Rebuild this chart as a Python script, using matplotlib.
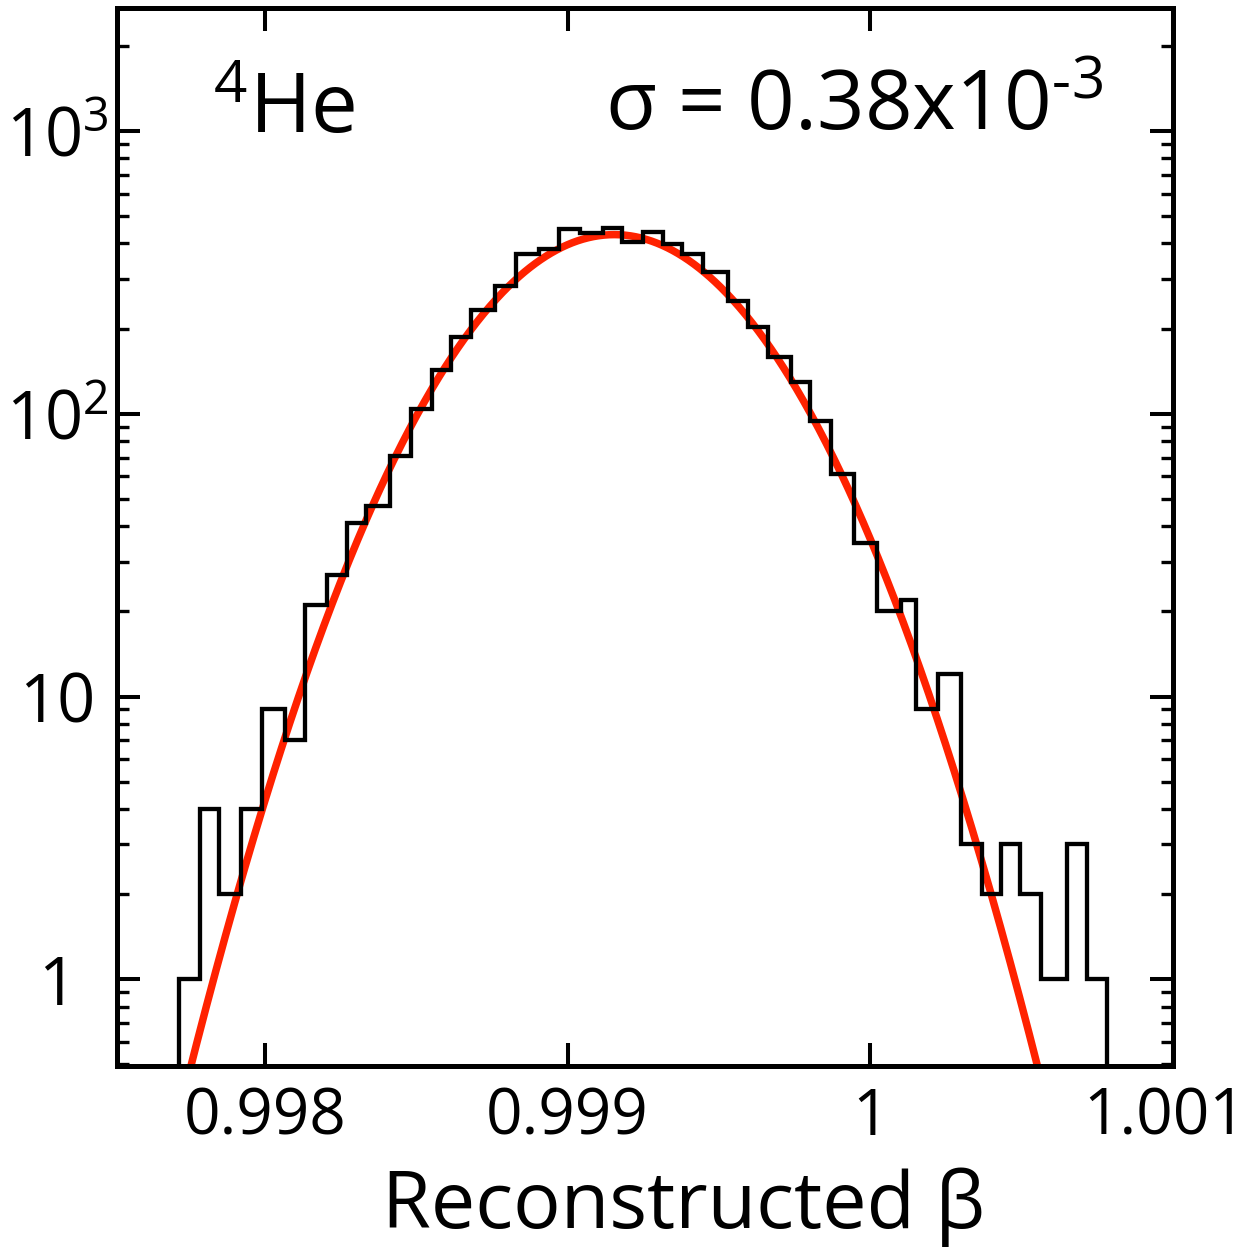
import numpy as np
import matplotlib
matplotlib.use("Agg")
import matplotlib.pyplot as plt
import matplotlib.transforms as mtransforms
from matplotlib.ticker import LogLocator, NullFormatter

plt.rcParams['font.family'] = ['Open Sans', 'DejaVu Sans']
plt.rcParams['mathtext.fontset'] = 'custom'
plt.rcParams['mathtext.rm'] = 'Open Sans'
plt.rcParams['mathtext.it'] = 'Open Sans:italic'
plt.rcParams['mathtext.bf'] = 'Open Sans:bold'
plt.rcParams['mathtext.default'] = 'regular'

# Reconstructed beta histogram: bin edges and entries per bin
bin_edges = [0.9977174, 0.9977857, 0.9978470, 0.9979209, 0.9979921, 0.9980669,
             0.9981319, 0.9982064, 0.9982723, 0.9983350, 0.9984121, 0.9984814,
             0.9985526, 0.9986152, 0.9986825, 0.9987616, 0.9988295, 0.9989044,
             0.9989726, 0.9990396, 0.9991187, 0.9991813, 0.9992506, 0.9993165,
             0.9993769, 0.9994484, 0.9995308, 0.9995968, 0.9996627, 0.9997376,
             0.9998002, 0.9998704, 0.9999463, 1.0000231, 1.0001002, 1.0001497,
             1.0002232, 1.0003000, 1.0003683, 1.0004319, 1.0004959, 1.0005638,
             1.0006495, 1.0007155, 1.0007814]
counts = [1, 4, 2, 4, 9, 7, 21, 27, 41, 47,
          71, 104, 143, 187, 233, 283, 366, 381, 449, 435,
          452, 404, 438, 397, 366, 318, 250, 203, 159, 130,
          94, 61, 35, 20, 22, 9, 12, 3, 2, 3,
          2, 1, 3, 1]

# Gaussian fit parameters
fit_mean = 0.999154
fit_sigma = 0.38e-3
fit_amplitude = 430.0

x_ticks = [0.998, 0.999, 1.0, 1.001]
x_tick_labels = ["0.998", "0.999", "1", "1.001"]
y_ticks = [1, 10, 100, 1000]
y_tick_labels = ["1", "10", "10$^{2}$", "10$^{3}$"]

x_range = (0.99751, 1.001)
y_range = (0.4925, 2711)

fig = plt.figure(figsize=(12.5, 12.49), dpi=100)
ax = fig.add_axes([0.0932, 0.1463, 0.8452, 0.8469])

ax.set_yscale('log')
ax.set_xlim(*x_range)
ax.set_ylim(*y_range)

# fitted gaussian
xs = np.linspace(x_range[0], x_range[1], 1000)
ys = fit_amplitude * np.exp(-0.5 * ((xs - fit_mean) / fit_sigma) ** 2)
ax.plot(xs, ys, color='#ff2200', lw=5.4, zorder=2, solid_capstyle='butt')

# histogram outline
ax.stairs(counts, bin_edges, baseline=0.01, fill=False, color='black',
          lw=3.1, zorder=3)

for sp in ax.spines.values():
    sp.set_linewidth(3.6)
    sp.set_color('black')

ax.set_xticks(x_ticks, labels=x_tick_labels)
ax.set_yticks(y_ticks, labels=y_tick_labels, ha='center')
ax.yaxis.set_minor_locator(LogLocator(base=10, subs=np.arange(2, 10)))
ax.yaxis.set_minor_formatter(NullFormatter())

ax.tick_params(which='both', direction='in', top=True, right=True,
               left=True, bottom=True, labelright=False, labeltop=False)
ax.tick_params(which='major', length=16.5, width=2.9)
ax.tick_params(which='minor', length=8.6, width=2.4)
ax.tick_params(axis='x', which='major', pad=14, labelsize=46)
ax.tick_params(axis='y', which='major', pad=42.8, labelsize=48)

# keep the rightmost x label inside the canvas
last_label = ax.get_xticklabels()[-1]
last_label.set_transform(last_label.get_transform() +
                         mtransforms.ScaledTranslation(-8 / 100, 0,
                                                       fig.dpi_scale_trans))

ax.set_xlabel("Reconstructed β", fontsize=57)
ax.xaxis.label.set_va('baseline')
ax.xaxis.set_label_coords(0.537, -0.1529)

ax.text(0.0911, 0.882, "$^{4}$He", transform=ax.transAxes, fontsize=60,
        ha='left', va='baseline')
ax.text(0.4624, 0.8858, "σ = 0.38x10$^{\u2010 3}$", transform=ax.transAxes,
        fontsize=60, ha='left', va='baseline')

fig.savefig("out.png", dpi=100, facecolor='white')
